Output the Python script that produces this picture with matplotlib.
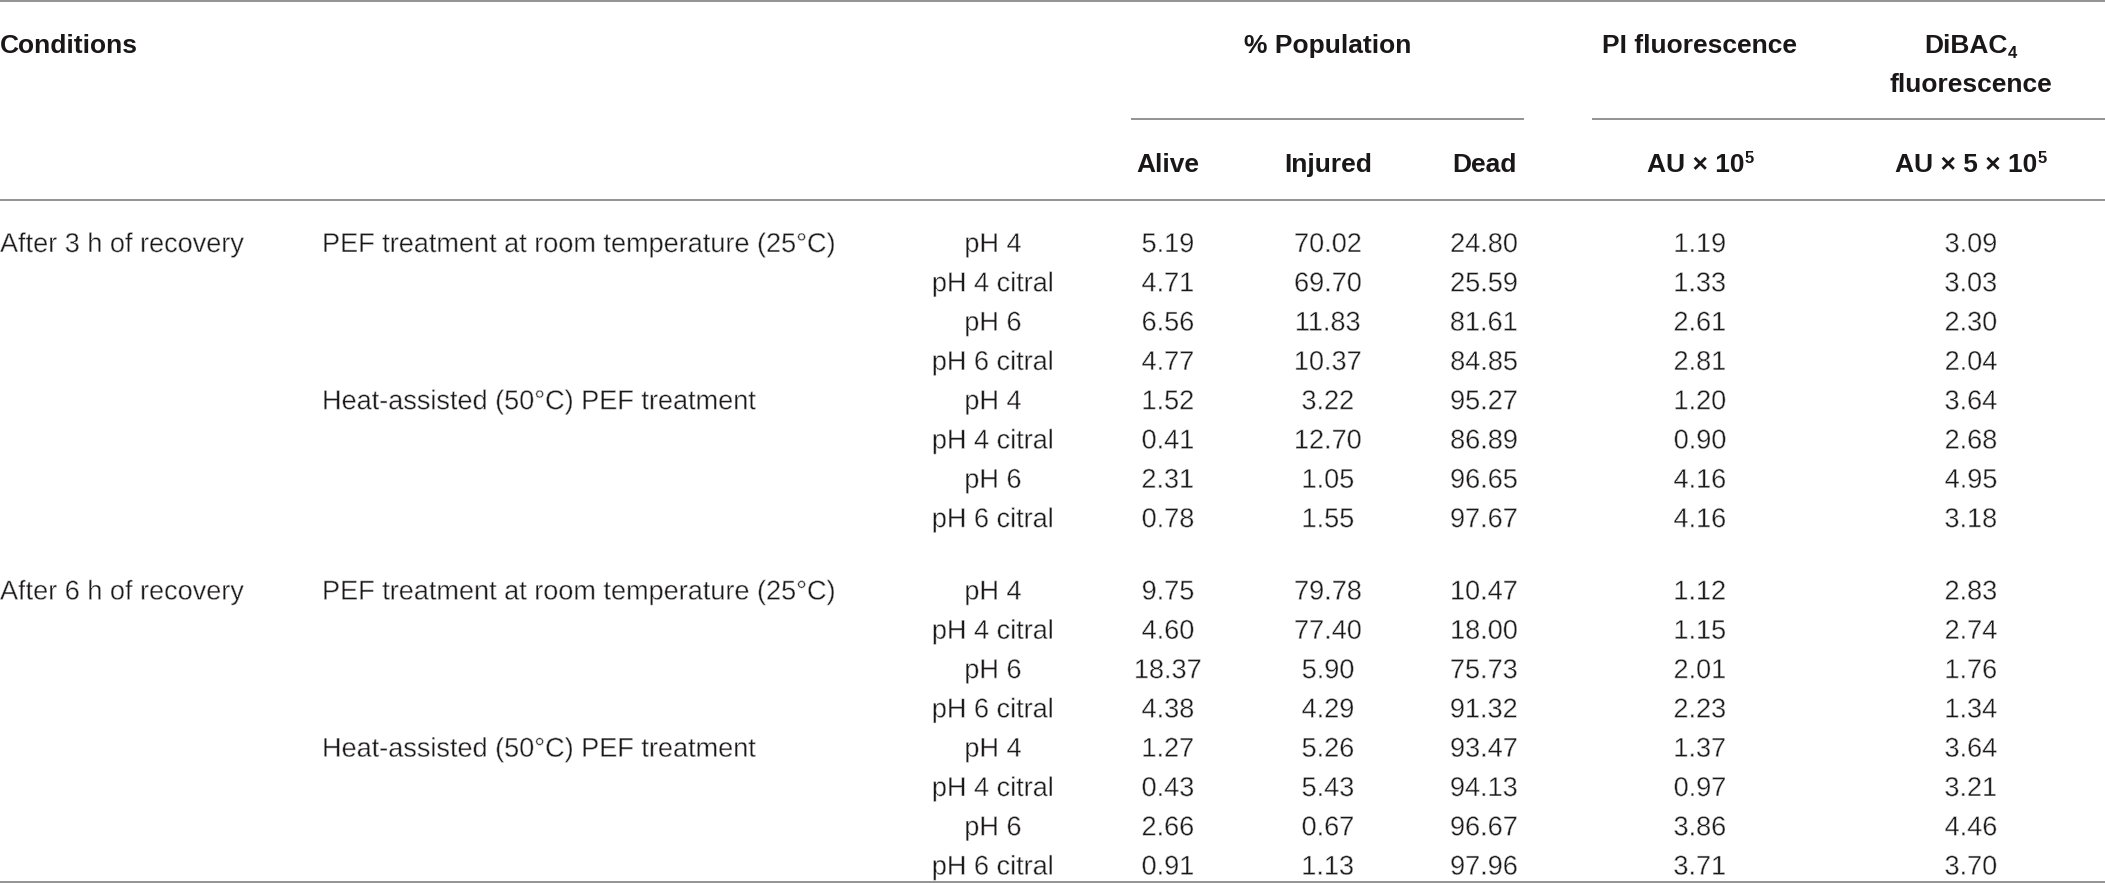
import matplotlib.pyplot as plt
import matplotlib.patheffects as pe

recovery = ["After 3 h of recovery", "After 6 h of recovery"]
treatments = ["PEF treatment at room temperature (25°C)", "Heat-assisted (50°C) PEF treatment"]
media = ["pH 4", "pH 4 citral", "pH 6", "pH 6 citral"]

alive = [5.19, 4.71, 6.56, 4.77, 1.52, 0.41, 2.31, 0.78,
         9.75, 4.60, 18.37, 4.38, 1.27, 0.43, 2.66, 0.91]
injured = [70.02, 69.70, 11.83, 10.37, 3.22, 12.70, 1.05, 1.55,
           79.78, 77.40, 5.90, 4.29, 5.26, 5.43, 0.67, 1.13]
dead = [24.80, 25.59, 81.61, 84.85, 95.27, 86.89, 96.65, 97.67,
        10.47, 18.00, 75.73, 91.32, 93.47, 94.13, 96.67, 97.96]
pi_fl = [1.19, 1.33, 2.61, 2.81, 1.20, 0.90, 4.16, 4.16,
         1.12, 1.15, 2.01, 2.23, 1.37, 0.97, 3.86, 3.71]
dibac_fl = [3.09, 3.03, 2.30, 2.04, 3.64, 2.68, 4.95, 3.18,
            2.83, 2.74, 1.76, 1.34, 3.64, 3.21, 4.46, 3.70]

W, H = 2105, 883
txt_col = '#1a1718'
line_col = '#808080'
# thin the regular face a little, the original uses a light weight
thin = [pe.Normal(), pe.Stroke(linewidth=0.4, foreground='white')]
body = dict(fontsize=19.5, family='Liberation Sans', color=txt_col, va='baseline',
            path_effects=thin)
hdr = dict(fontsize=19, family='Liberation Sans', fontweight='bold', color=txt_col, va='baseline')

fig = plt.figure(figsize=(W / 100, H / 100), dpi=100)
ax = fig.add_axes([0, 0, 1, 1])
ax.set_xlim(0, W)
ax.set_ylim(H, 0)
ax.axis('off')
r = fig.canvas.get_renderer()

# column centres
x_med = 993
x_num = [1168, 1328, 1484, 1700, 1971]

# lines
ax.hlines([1, 200, 882], 0, W, color=line_col, lw=1.2)
ax.hlines(119, 1131, 1524, color=line_col, lw=1.2)
ax.hlines(119, 1592, W, color=line_col, lw=1.2)


def with_script(xc, y, main, small, up=True):
    t1 = ax.text(0, y, main, ha='left', **hdr)
    t2 = ax.text(0, y, small, ha='left', fontsize=12, family='Liberation Sans',
                 fontweight='bold', color=txt_col, va='baseline')
    w1 = t1.get_window_extent(r).width
    w2 = t2.get_window_extent(r).width
    x0 = xc - (w1 + w2) / 2
    t1.set_x(x0)
    t2.set_x(x0 + w1)
    t2.set_y(y - 9 if up else y + 5)


# header
ax.text(0, 53, "Conditions", ha='left', **hdr)
ax.text((1131 + 1524) / 2, 53, "% Population", ha='center', **hdr)
ax.text(x_num[3], 53, "PI fluorescence", ha='center', **hdr)
with_script(x_num[4], 53, "DiBAC", "4", up=False)
ax.text(x_num[4], 92, "fluorescence", ha='center', **hdr)
for xc, lab in zip(x_num[:3], ["Alive", "Injured", "Dead"]):
    ax.text(xc, 172, lab, ha='center', **hdr)
with_script(x_num[3], 172, "AU × 10", "5")
with_script(x_num[4], 172, "AU × 5 × 10", "5")

# body rows
step = 39.3
base0 = [252, 599.5]
for g in range(2):
    ax.text(0, base0[g], recovery[g], ha='left', **body)
    for t in range(2):
        ax.text(322, base0[g] + 4 * t * step, treatments[t], ha='left', **body)
        for m in range(4):
            i = g * 8 + t * 4 + m
            y = base0[g] + (t * 4 + m) * step
            ax.text(x_med, y, media[m], ha='center', **body)
            vals = [alive[i], injured[i], dead[i], pi_fl[i], dibac_fl[i]]
            for xc, v in zip(x_num, vals):
                ax.text(xc, y, f"{v:.2f}", ha='center', **body)

fig.savefig('out.png', dpi=100)
